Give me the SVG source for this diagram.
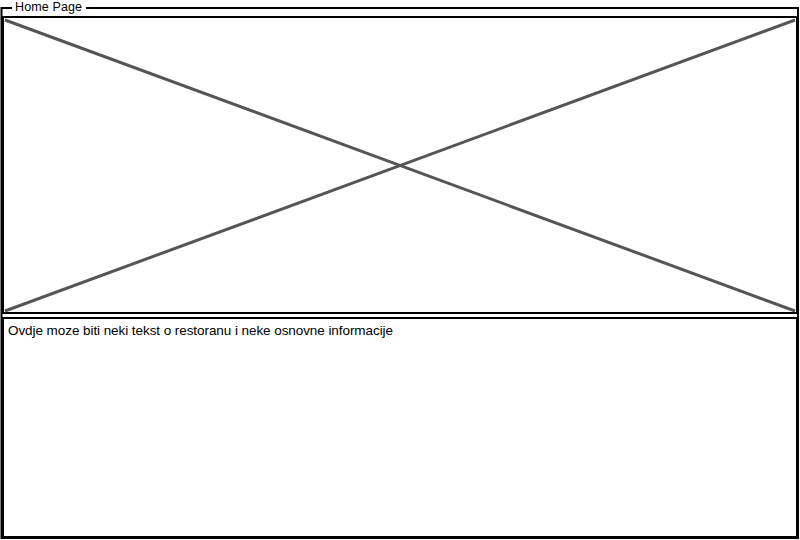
<svg xmlns="http://www.w3.org/2000/svg" width="800" height="540" viewBox="0 0 800 540">
<style>
.frame{fill:none;stroke:#000;stroke-width:2}
.box{fill:#fff;stroke:#000;stroke-width:2}
.x{stroke:#555;stroke-width:3;fill:none}
.t{font-family:"Liberation Sans",Arial,sans-serif;fill:#000}
</style>
<rect width="800" height="540" fill="#fff"/>
<g id="window">
<path class="frame" d="M12,8 H1.5 V538 H798 V8 H86"/>
<text class="t" x="15" y="11" font-size="12.5" textLength="67">Home Page</text>
</g>
<g id="image">
<rect class="box" x="3" y="17" width="794" height="296"/>
<g id="connectors">
<line class="x" x1="5" y1="20" x2="795" y2="311"/>
<line class="x" x1="5" y1="311" x2="795" y2="20"/>
</g>
</g>
<g id="textbox">
<rect class="box" x="3" y="318" width="794" height="219"/>
<text class="t" x="8" y="335" font-size="13.5" textLength="385">Ovdje moze biti neki tekst o restoranu i neke osnovne informacije</text>
</g>
</svg>
